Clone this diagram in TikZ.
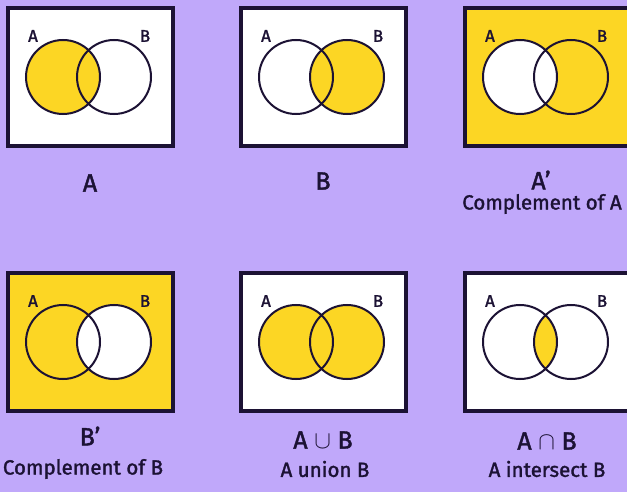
\documentclass[tikz,border=0pt]{standalone}
\usepackage{fontspec}
\setmainfont{Fira Sans}[FakeBold=1.6,AutoFakeBold=1.6]
\usetikzlibrary{positioning}
\definecolor{lilac}{RGB}{192,168,250}
\definecolor{gold}{RGB}{252,214,36}
\definecolor{ink}{RGB}{28,18,52}
\tikzset{
  boxline/.style={draw=ink,line width=3.6pt},
  ring/.style={draw=ink,line width=2pt},
  setlbl/.style={font=\fontsize{17}{17}\selectfont\bfseries,text=ink,inner sep=0pt},
  captxt/.style={font=\fontsize{25}{25}\selectfont\bfseries,text=ink,inner sep=0pt},
  subtxt/.style={font=\fontsize{20.5}{20.5}\selectfont\bfseries,text=ink,inner sep=0pt},
}

\begin{document}
\begin{tikzpicture}[x=1pt,y=-1pt]
  \fill[lilac] (0,0) rectangle (627,492);
  \useasboundingbox (0,0) rectangle (627,492);
  % panels: backgrounds and circle centres
  \foreach \n/\x/\y/\bg in {pa/8/8/white,pb/241/8/white,pc/465/8/gold,
                           pd/8/273/gold,pe/241/273/white,pf/465/273/white}{
    \fill[\bg] (\x,\y) rectangle ++(165,138);
    \coordinate (\n a) at (\x+55,\y+69);
    \coordinate (\n b) at (\x+106,\y+69);}
  % shaded regions
  \fill[gold] (paa) circle[radius=37pt];
  \fill[gold] (pbb) circle[radius=37pt];
  \fill[white] (pca) circle[radius=37pt];
  \fill[white] (pdb) circle[radius=37pt];
  \fill[gold] (pea) circle[radius=37pt] (peb) circle[radius=37pt];
  \begin{scope}
    \clip (pfa) circle[radius=37pt];
    \fill[gold] (pfb) circle[radius=37pt];
  \end{scope}
  % outlines and set letters
  \foreach \n/\x/\y in {pa/8/8,pb/241/8,pc/465/8,pd/8/273,pe/241/273,pf/465/273}{
    \draw[ring] (\n a) circle[radius=37pt] (\n b) circle[radius=37pt];
    \draw[boxline] (\x,\y) rectangle ++(165,138);
    \node[setlbl] (\n la) at (\x+25,\y+28) {A};
    \node[setlbl] (\n lb) at (\x+137,\y+28) {B};}
  % captions
  \node[captxt] (capa) at (90,183) {A};
  \node[captxt] (capb) at (323,181) {B};
  \node[captxt] (capc) at (541,180) {A'};
  \node[subtxt] (subc) at (542,204) {Complement of A};
  \node[captxt] (capd) at (90,436) {B'};
  \node[subtxt] (subd) at (83,469) {Complement of B};
  \node[captxt] (cape) at (323,440) {A $\cup$ B};
  \node[subtxt] (sube) at (325,469) {A union B};
  \node[captxt] (capf) at (547,441) {A $\cap$ B};
  \node[subtxt] (subf) at (547,469) {A intersect B};
\end{tikzpicture}
\end{document}
